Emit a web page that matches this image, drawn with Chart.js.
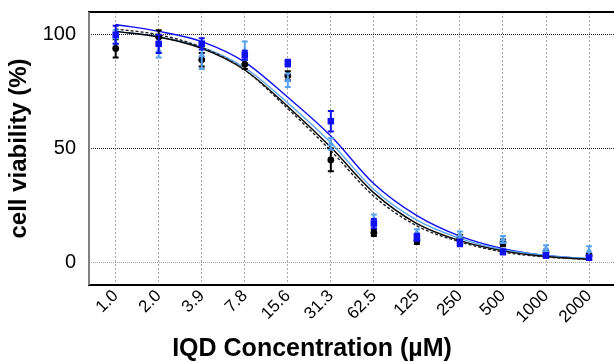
<!DOCTYPE html>
<html>
<head>
<meta charset="utf-8">
<script src="https://cdn.jsdelivr.net/npm/chart.js@4.4.1/dist/chart.umd.min.js"></script>
<style>
  html, body { margin: 0; padding: 0; background: #ffffff; }
  #wrap { width: 614px; height: 362px; position: relative; }
</style>
</head>
<body>
<div id="wrap"><canvas id="c" width="614" height="362"></canvas></div>
<script>
// ---- Data ----
const concLabels = ['1.0', '2.0', '3.9', '7.8', '15.6', '31.3', '62.5', '125', '250', '500', '1000', '2000'];
const yTickValues = [0, 50, 100];

const blackMean = [94, 99, 89, 87, 82, 45, 13, 9.5, 10.5, 8.5, 4.5, 3];
const blackErr  = [4, 3, 3, 2, 2, 5, 1.5, 1.5, 1.5, 1.5, 1, 1];
const blueMean  = [100, 96, 96, 91, 87.5, 62, 17, 11, 8.5, 4.5, 3, 2];
const blueErr   = [4, 4, 2.5, 2, 1.5, 4.5, 2, 1.5, 1.5, 1, 1, 1];
const lightMean = [99, 93, 91, 93, 80, 52, 19, 13, 12, 10, 6, 5];
const lightErr  = [3, 3, 6, 4, 3, 2.5, 2, 1.5, 1.5, 1.5, 1.5, 2];

// fitted curves, read at each concentration
const fitBlue        = [104.5, 101.5, 97, 88, 72.5, 55.5, 34.5, 20.5, 11.5, 6, 3, 1.5];
const fitLight       = [101.5, 99, 94.5, 85.5, 70, 52.5, 32, 18.5, 10.5, 5.5, 3, 1.5];
const fitBlack       = [101.5, 99, 94, 84.5, 68.5, 50.5, 30.5, 17, 9.5, 5, 2.5, 1.3];
const fitBlackDashed = [102.5, 100, 94.5, 84.5, 67.5, 49, 29, 16, 9, 4.5, 2.3, 1.2];

const xTitle = 'IQD Concentration (µM)';
const yTitle = 'cell viability (%)';

// ---- build ----
const toPts = arr => arr.map((v, i) => ({ x: i, y: v }));
const DARK = '#1010ee';
const LIGHT = '#5aa2f0';
const BLACK = '#000000';

function curve(data, color, dash, w) {
  return {
    type: 'line', data: toPts(data), borderColor: color, borderWidth: w || 1.4,
    borderDash: dash || [], pointRadius: 0, fill: false,
    cubicInterpolationMode: 'monotone', order: 10
  };
}
function pts(mean, err, color, style, r, ord) {
  return {
    type: 'scatter', data: toPts(mean), errors: err, errColor: color,
    backgroundColor: color, borderColor: color, pointStyle: style,
    pointRadius: r, borderWidth: 0, order: ord, showLine: false
  };
}

const errorBarPlugin = {
  id: 'errorBars',
  beforeDatasetDraw(chart, args) {
    const ds = chart.data.datasets[args.index];
    if (!ds.errors) return;
    const xs = chart.scales.x, ys = chart.scales.y, ctx = chart.ctx;
    ctx.save();
    ctx.strokeStyle = ds.errColor;
    ctx.lineWidth = 2;
    ctx.setLineDash([]);
    ds.data.forEach((p, i) => {
      const e = ds.errors[i];
      const x = xs.getPixelForValue(p.x);
      const y1 = ys.getPixelForValue(p.y + e);
      const y2 = ys.getPixelForValue(p.y - e);
      ctx.beginPath();
      ctx.moveTo(x, y1); ctx.lineTo(x, y2);
      ctx.moveTo(x - 3, y1); ctx.lineTo(x + 3, y1);
      ctx.moveTo(x - 3, y2); ctx.lineTo(x + 3, y2);
      ctx.stroke();
    });
    ctx.restore();
  }
};

const framePlugin = {
  id: 'frame',
  afterDraw(chart) {
    const a = chart.chartArea, ctx = chart.ctx;
    ctx.save();
    ctx.setLineDash([]);
    ctx.strokeStyle = '#000';
    ctx.lineWidth = 2;
    ctx.beginPath();
    ctx.moveTo(a.left - 1, a.top); ctx.lineTo(a.right, a.top);
    ctx.moveTo(a.left - 1, a.bottom); ctx.lineTo(a.right, a.bottom);
    ctx.stroke();
    ctx.strokeStyle = '#808080';
    ctx.beginPath();
    ctx.moveTo(a.left, a.top); ctx.lineTo(a.left, a.bottom);
    ctx.stroke();
    // x axis title
    ctx.fillStyle = '#000';
    ctx.font = 'bold 25px "Liberation Sans", Arial, sans-serif';
    ctx.textAlign = 'center';
    ctx.textBaseline = 'middle';
    ctx.fillText(xTitle, 312, 349);
    ctx.restore();
  }
};

new Chart(document.getElementById('c'), {
  data: {
    datasets: [
      curve(fitBlackDashed, '#222222', [3, 2], 1.4),
      curve(fitBlack, BLACK, [], 1.4),
      curve(fitLight, LIGHT, [], 1.4),
      curve(fitBlue, DARK, [], 1.4),
      pts(blackMean, blackErr, BLACK, 'circle', 3.4, 3),
      pts(lightMean, lightErr, LIGHT, 'triangle', 4.2, 2),
      pts(blueMean, blueErr, DARK, 'rect', 4.6, 1)
    ]
  },
  options: {
    responsive: false,
    animation: false,
    devicePixelRatio: 1,
    layout: { autoPadding: false, padding: { top: 12, right: 0, left: 0, bottom: 0 } },
    plugins: { legend: { display: false }, tooltip: { enabled: false } },
    scales: {
      x: {
        type: 'linear', min: -0.62, max: 11.58,
        afterFit(s) { s.height = 77; s.paddingLeft = 0; s.paddingRight = 0; },
        afterBuildTicks(s) { s.ticks = concLabels.map((_, i) => ({ value: i })); },
        grid: { color: '#a8a8a8', lineWidth: 1, drawTicks: false },
        border: { display: false, dash: [2, 2] },
        ticks: {
          autoSkip: false, minRotation: 45, maxRotation: 45, padding: 1, labelOffset: 0,
          color: '#000', font: { family: '"Liberation Sans", Arial, sans-serif', size: 17 },
          callback: (v) => concLabels[Math.round(v)]
        }
      },
      y: {
        type: 'linear', min: -10, max: 110,
        afterFit(s) { s.width = 89; s.paddingTop = 0; s.paddingBottom = 0; },
        afterBuildTicks(s) { s.ticks = yTickValues.map(v => ({ value: v })); },
        grid: {
          drawTicks: false, lineWidth: 1,
          color: (ctx) => (ctx.tick && ctx.tick.value === 0 ? '#a0a0a0' : '#222222')
        },
        border: { display: false, dash: [1, 1] },
        ticks: {
          padding: 13, color: '#000',
          font: { family: '"Liberation Sans", Arial, sans-serif', size: 20 }
        },
        title: {
          display: true, text: yTitle, color: '#000',
          font: { family: '"Liberation Sans", Arial, sans-serif', size: 24, weight: 'bold' },
          padding: { top: 5, bottom: 0 }
        }
      }
    }
  },
  plugins: [errorBarPlugin, framePlugin]
});
</script>
</body>
</html>
